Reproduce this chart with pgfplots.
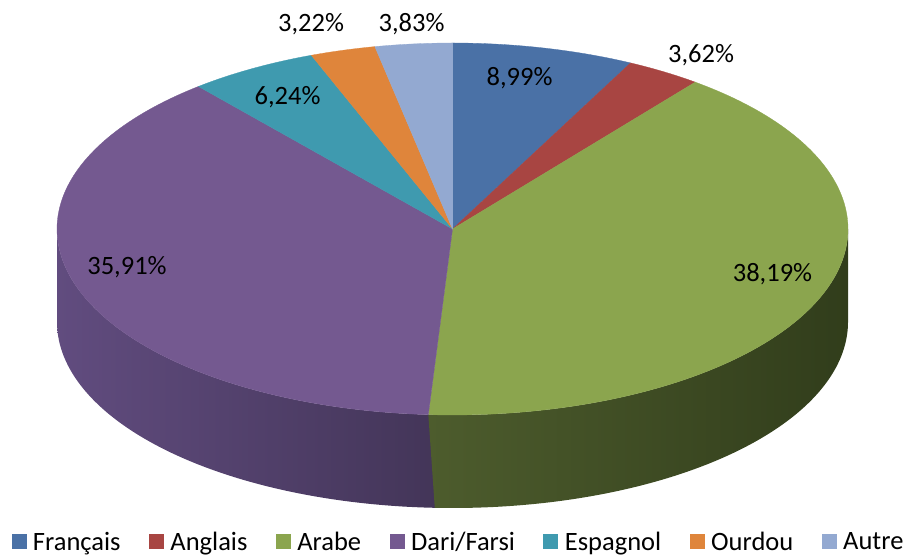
\documentclass[border=0pt]{standalone}
\usepackage{fontspec}
\setmainfont{Carlito}
\usepackage{pgfplots}
\pgfplotsset{compat=1.18}
\definecolor{cFr}{HTML}{4A71A6}
\definecolor{cAn}{HTML}{A84542}
\definecolor{cAr}{HTML}{8BA54E}
\definecolor{cDa}{HTML}{745990}
\definecolor{cEs}{HTML}{3F9AAF}
\definecolor{cOu}{HTML}{DF853B}
\definecolor{cAu}{HTML}{93A9D1}
\definecolor{cArSL}{HTML}{4D5C2D}
\definecolor{cArSR}{HTML}{313D1B}
\definecolor{cDaSL}{HTML}{614C7F}
\definecolor{cDaSR}{HTML}{433558}
\newcommand\lblfont{\fontsize{26.5bp}{30bp}\selectfont}
% shares (percent)
\def\pFr{8.99}\def\pAn{3.62}\def\pAr{38.19}\def\pDa{35.91}\def\pEs{6.24}\def\pOu{3.22}\def\pAu{3.83}
% geometry (pixel units)
\def\cx{452.5}\def\cy{328}\def\rx{395.5}\def\ry{186}\def\dep{93}
\begin{document}
\begin{tikzpicture}
% cumulative shares and perspective angles
\pgfmathsetmacro\cA{\pFr}
\pgfmathsetmacro\cB{\cA+\pAn}
\pgfmathsetmacro\cC{\cB+\pAr}
\pgfmathsetmacro\cD{\cC+\pDa}
\pgfmathsetmacro\cE{\cD+\pEs}
\pgfmathsetmacro\cF{\cE+\pOu}
\pgfmathsetmacro\fA{2*atan(0.82*tan(1.8*\cA))+360*(\cA>50)}
\pgfmathsetmacro\fB{2*atan(0.82*tan(1.8*\cB))+360*(\cB>50)}
\pgfmathsetmacro\fC{2*atan(0.82*tan(1.8*\cC))+360*(\cC>50)}
\pgfmathsetmacro\fD{2*atan(0.82*tan(1.8*\cD))+360*(\cD>50)}
\pgfmathsetmacro\fE{2*atan(0.82*tan(1.8*\cE))+360*(\cE>50)}
\pgfmathsetmacro\fF{2*atan(0.82*tan(1.8*\cF))+360*(\cF>50)}
\pgfmathsetmacro\fCm{\fC-1.5}
\begin{axis}[
  width=907bp, height=557bp, scale only axis,
  xmin=0, xmax=907, ymin=0, ymax=557,
  hide axis, clip=false,
  legend columns=7,
  legend image code/.code={\fill[#1] (0bp,-7bp) rectangle (14bp,7bp);},
  legend style={at={(axis description cs:0.5044,0.0275)}, anchor=center,
    draw=none, fill=none, font=\lblfont, inner sep=0pt,
    nodes={inner sep=0pt},
    /tikz/every odd column/.append style={column sep=7bp},
    /tikz/every even column/.append style={column sep=28.5bp}},
]
% side walls
\addplot[forget plot, draw=none, left color=cDaSL, right color=cDaSR, domain=0:2, samples=201, variable=\t]
  ({\cx+\rx*sin(\fCm+(270-\fCm)*(1-abs(1-\t)))}, {\cy+\ry*cos(\fCm+(270-\fCm)*(1-abs(1-\t)))-\dep*(\t>1)}) -- cycle;
\addplot[forget plot, draw=none, left color=cArSL, right color=cArSR, domain=0:2, samples=201, variable=\t]
  ({\cx+\rx*sin(90+(\fC-90)*(1-abs(1-\t)))}, {\cy+\ry*cos(90+(\fC-90)*(1-abs(1-\t)))-\dep*(\t>1)}) -- cycle;
% top faces
\addplot[forget plot, fill=cFr, draw=cFr, line width=0.3bp, domain=0:\fA, samples=40, variable=\t] ({\cx+\rx*sin(\t)},{\cy+\ry*cos(\t)}) -- (axis cs:\cx,\cy) -- cycle;
\addplot[forget plot, fill=cAn, draw=cAn, line width=0.3bp, domain=\fA:\fB, samples=20, variable=\t] ({\cx+\rx*sin(\t)},{\cy+\ry*cos(\t)}) -- (axis cs:\cx,\cy) -- cycle;
\addplot[forget plot, fill=cAr, draw=cAr, line width=0.3bp, domain=\fB:\fC, samples=120, variable=\t] ({\cx+\rx*sin(\t)},{\cy+\ry*cos(\t)}) -- (axis cs:\cx,\cy) -- cycle;
\addplot[forget plot, fill=cDa, draw=cDa, line width=0.3bp, domain=\fC:\fD, samples=120, variable=\t] ({\cx+\rx*sin(\t)},{\cy+\ry*cos(\t)}) -- (axis cs:\cx,\cy) -- cycle;
\addplot[forget plot, fill=cEs, draw=cEs, line width=0.3bp, domain=\fD:\fE, samples=30, variable=\t] ({\cx+\rx*sin(\t)},{\cy+\ry*cos(\t)}) -- (axis cs:\cx,\cy) -- cycle;
\addplot[forget plot, fill=cOu, draw=cOu, line width=0.3bp, domain=\fE:\fF, samples=20, variable=\t] ({\cx+\rx*sin(\t)},{\cy+\ry*cos(\t)}) -- (axis cs:\cx,\cy) -- cycle;
\addplot[forget plot, fill=cAu, draw=cAu, line width=0.3bp, domain=\fF:360, samples=20, variable=\t] ({\cx+\rx*sin(\t)},{\cy+\ry*cos(\t)}) -- (axis cs:\cx,\cy) -- cycle;
% labels
\node[anchor=base, font=\lblfont] at (axis cs:519.5,471) {8,99\%};
\node[anchor=base, font=\lblfont] at (axis cs:701,494) {3,62\%};
\node[anchor=base, font=\lblfont] at (axis cs:772.5,275) {38,19\%};
\node[anchor=base, font=\lblfont] at (axis cs:127,282) {35,91\%};
\node[anchor=base, font=\lblfont] at (axis cs:287.5,452) {6,24\%};
\node[anchor=base, font=\lblfont] at (axis cs:311,525) {3,22\%};
\node[anchor=base, font=\lblfont] at (axis cs:411.5,525) {3,83\%};
% legend
\addlegendimage{cFr}\addlegendentry{Français}
\addlegendimage{cAn}\addlegendentry{Anglais}
\addlegendimage{cAr}\addlegendentry{Arabe}
\addlegendimage{cDa}\addlegendentry{Dari/Farsi}
\addlegendimage{cEs}\addlegendentry{Espagnol}
\addlegendimage{cOu}\addlegendentry{Ourdou}
\addlegendimage{cAu}\addlegendentry{Autre}
\end{axis}
\pgfresetboundingbox
\path (current axis.south west) rectangle (current axis.north east);
\end{tikzpicture}
\end{document}
